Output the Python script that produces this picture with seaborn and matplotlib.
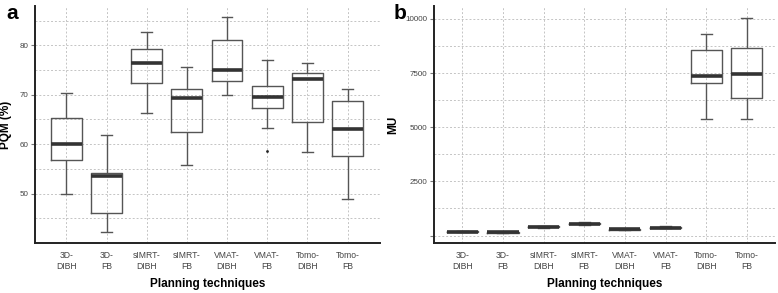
import numpy as np
import pandas as pd
import matplotlib
matplotlib.use("Agg")
import matplotlib.pyplot as plt
import seaborn as sns
from matplotlib.ticker import MultipleLocator

categories = ["3D-\nDIBH", "3D-\nFB", "sIMRT-\nDIBH", "sIMRT-\nFB",
              "VMAT-\nDIBH", "VMAT-\nFB", "Tomo-\nDIBH", "Tomo-\nFB"]

# five-number summaries: [whisker low, Q1, median, Q3, whisker high]
pqm_stats = [
    [50.0, 56.7, 60.0, 65.2, 70.4],
    [42.2, 46.0, 53.6, 54.2, 61.8],
    [66.3, 72.4, 76.5, 79.2, 82.7],
    [55.7, 62.4, 69.3, 71.1, 75.7],
    [70.0, 72.8, 75.0, 81.1, 85.7],
    [63.3, 67.4, 69.5, 71.7, 77.0],
    [58.5, 64.4, 73.2, 74.4, 76.5],
    [48.8, 57.6, 63.0, 68.8, 71.1],
]
pqm_outlier_cat = ["VMAT-\nFB"]
pqm_outlier_val = [58.7]
pqm_ticks = [50, 60, 70, 80]

mu_stats = [
    [140, 150, 170, 190, 200],
    [120, 130, 150, 170, 180],
    [330, 380, 400, 420, 430],
    [500, 520, 540, 560, 620],
    [250, 260, 280, 300, 310],
    [340, 350, 370, 390, 430],
    [5400, 7037, 7347, 8551, 9292],
    [5400, 6358, 7469, 8673, 10046],
]
mu_ticks = [0, 2500, 5000, 7500, 10000]
mu_ticklabels = ["", "2500", "5000", "7500", "10000"]

def to_long(stats):
    rows = []
    for c, s in zip(categories, stats):
        for v in s:
            rows.append((c, v))
    return pd.DataFrame(rows, columns=["cat", "val"])

plt.rcParams["font.family"] = ["Liberation Sans", "DejaVu Sans"]

fig = plt.figure(figsize=(7.78, 2.93), dpi=100)
axa = fig.add_axes([0.045, 0.171, 0.443, 0.809])
axb = fig.add_axes([0.558, 0.171, 0.438, 0.809])

edge = "#555555"
box_kw = dict(whis=np.inf, width=0.77, fill=False, color=edge, linewidth=1.0,
              medianprops=dict(color="#333333", linewidth=2.6),
              whiskerprops=dict(color=edge, linewidth=1.0),
              capprops=dict(color=edge, linewidth=1.0),
              capwidths=0.27)

def style(ax):
    ax.set_axisbelow(True)
    ax.grid(True, which="both", axis="y", linestyle=(0, (2, 2)), color="#c4c4c4", linewidth=0.7)
    ax.grid(True, which="major", axis="x", linestyle=(0, (2, 2)), color="#c4c4c4", linewidth=0.7)
    for s in ["top", "right"]:
        ax.spines[s].set_visible(False)
    for s in ["left", "bottom"]:
        ax.spines[s].set_color("#222222")
        ax.spines[s].set_linewidth(1.4)
    ax.tick_params(axis="y", which="major", length=3, color="#777777", labelsize=5.8,
                   labelcolor="#444444", pad=2)
    ax.tick_params(axis="y", which="minor", length=0)
    ax.tick_params(axis="x", length=0, labelsize=6.2, labelcolor="#444444", pad=6)
    ax.set_xlabel("Planning techniques", fontsize=8.5, fontweight="bold", labelpad=5)

dfa = to_long(pqm_stats)
sns.boxplot(data=dfa, x="cat", y="val", order=categories, ax=axa, **box_kw)
sns.stripplot(x=pqm_outlier_cat, y=pqm_outlier_val, order=categories, ax=axa,
              jitter=False, color="#222222", size=2)
axa.set_xlim(-0.78, 7.8)
axa.set_ylim(40, 88)
axa.set_yticks(pqm_ticks)
axa.yaxis.set_minor_locator(MultipleLocator(5))
style(axa)
axa.set_ylabel("PQM (%)", fontsize=8.5, fontweight="bold", labelpad=5)

dfb = to_long(mu_stats)
sns.boxplot(data=dfb, x="cat", y="val", order=categories, ax=axb, **box_kw)
axb.set_xlim(-0.69, 7.69)
axb.set_ylim(-340, 10600)
axb.set_yticks(mu_ticks)
axb.set_yticklabels(mu_ticklabels)
axb.yaxis.set_minor_locator(MultipleLocator(1250))
style(axb)
axb.set_ylabel("MU", fontsize=8.5, fontweight="bold", labelpad=4)

fig.text(0.008, 0.985, "a", fontsize=15, fontweight="bold", va="top", ha="left")
fig.text(0.506, 0.985, "b", fontsize=15, fontweight="bold", va="top", ha="left")

fig.savefig("out.png", dpi=100)
